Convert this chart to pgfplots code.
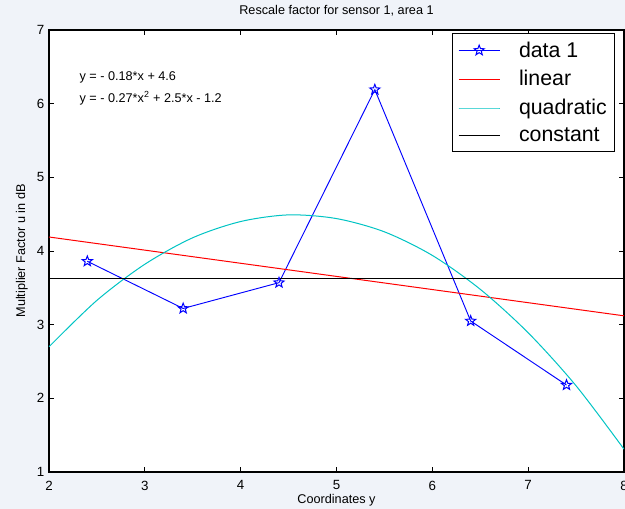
\documentclass[border=0pt]{standalone}
\usepackage{fontspec}
\setmainfont{Liberation Sans}
\usepackage{pgfplots}
\pgfplotsset{compat=1.18}

\definecolor{figbg}{RGB}{240,243,249}
\definecolor{mcyan}{RGB}{0,196,196}

% outlined five-pointed star, like MATLAB's 'p' marker
\pgfdeclareplotmark{ostar}{%
  \pgfpathmoveto{\pgfpointpolar{90}{\pgfplotmarksize}}%
  \pgfpathlineto{\pgfpointpolar{126}{0.42\pgfplotmarksize}}%
  \pgfpathlineto{\pgfpointpolar{162}{\pgfplotmarksize}}%
  \pgfpathlineto{\pgfpointpolar{198}{0.42\pgfplotmarksize}}%
  \pgfpathlineto{\pgfpointpolar{234}{\pgfplotmarksize}}%
  \pgfpathlineto{\pgfpointpolar{270}{0.42\pgfplotmarksize}}%
  \pgfpathlineto{\pgfpointpolar{306}{\pgfplotmarksize}}%
  \pgfpathlineto{\pgfpointpolar{342}{0.42\pgfplotmarksize}}%
  \pgfpathlineto{\pgfpointpolar{18}{\pgfplotmarksize}}%
  \pgfpathlineto{\pgfpointpolar{54}{0.42\pgfplotmarksize}}%
  \pgfpathclose
  \pgfusepathqstroke}

\begin{document}
\begin{tikzpicture}
% figure background (1px = 0.75pt)
\fill[figbg] (-36.75pt,-27.75pt) rectangle (432pt,354pt);
\begin{axis}[
  at={(0,0)}, anchor=south west,
  scale only axis, width=431.25pt, height=331.5pt,
  axis background/.style={fill=white},
  axis line style={line width=1pt},
  xmin=2, xmax=8, ymin=1, ymax=7,
  xtick={2,3,4,5,6,7,8}, ytick={1,2,3,4,5,6,7},
  tick align=inside, tick pos=both,
  major tick length=3.5pt,
  every tick/.style={black, line width=0.6pt},
  tick label style={font=\fontsize{10}{12}\selectfont},
  xticklabel style={yshift=-3pt},
  /pgf/number format/assume math mode=true,
  title={Rescale factor for sensor 1, area 1},
  title style={font=\fontsize{9.5}{11}\selectfont, yshift=1pt},
  xlabel={Coordinates y},
  ylabel={Multiplier Factor u in dB},
  label style={font=\fontsize{9.5}{11}\selectfont},
  xlabel style={yshift=3.5pt},
  ylabel style={yshift=0pt},
  legend cell align=left,
  legend style={at={(0.701,0.993)}, anchor=north west,
    draw=black, line width=0.9pt, fill=white,
    font=\fontsize{16}{19}\selectfont,
    row sep=4.5pt, inner xsep=4pt, inner ysep=4pt},
  legend image code/.code={%
    \draw[mark repeat=2, mark phase=2, line width=0.75pt, #1]
      plot coordinates {(0pt,0pt) (15.5pt,0pt) (31pt,0pt)};},
  legend style={/tikz/every odd column/.append style={column sep=12pt}},
]
\addplot[blue, line width=0.7pt, mark=ostar, mark size=4pt,
  mark options={line width=0.75pt}] coordinates {
  (2.4,3.86) (3.4,3.22) (4.4,3.57) (5.4,6.19) (6.4,3.05) (7.4,2.18)
};
\addlegendentry{data 1}
\addplot[red, line width=0.75pt] coordinates {(2,4.19) (8,3.12)};
\addlegendentry{linear}
\addplot[mcyan, line width=0.75pt, smooth] coordinates {
  (2,2.70) (2.5,3.33) (3,3.82) (3.5,4.18) (4,4.40) (4.5,4.49)
  (5,4.44) (5.5,4.26) (6,3.94) (6.5,3.48) (7,2.89) (7.5,2.17) (8,1.31)
};
\addlegendentry{quadratic}
\addplot[black, line width=0.75pt] coordinates {(2,3.63) (8,3.63)};
\addlegendentry{constant}
\node[anchor=west, font=\fontsize{9.5}{11}\selectfont] at (axis cs:2.27,6.36)
  {y = - 0.18*x + 4.6};
\node[anchor=west, font=\fontsize{9.5}{11}\selectfont] at (axis cs:2.27,6.08)
  {y = - 0.27*x\textsuperscript{2} + 2.5*x - 1.2};
\end{axis}
\pgfresetboundingbox
\useasboundingbox (-36.75pt,-27.75pt) rectangle (432pt,354pt);
\end{tikzpicture}
\end{document}
